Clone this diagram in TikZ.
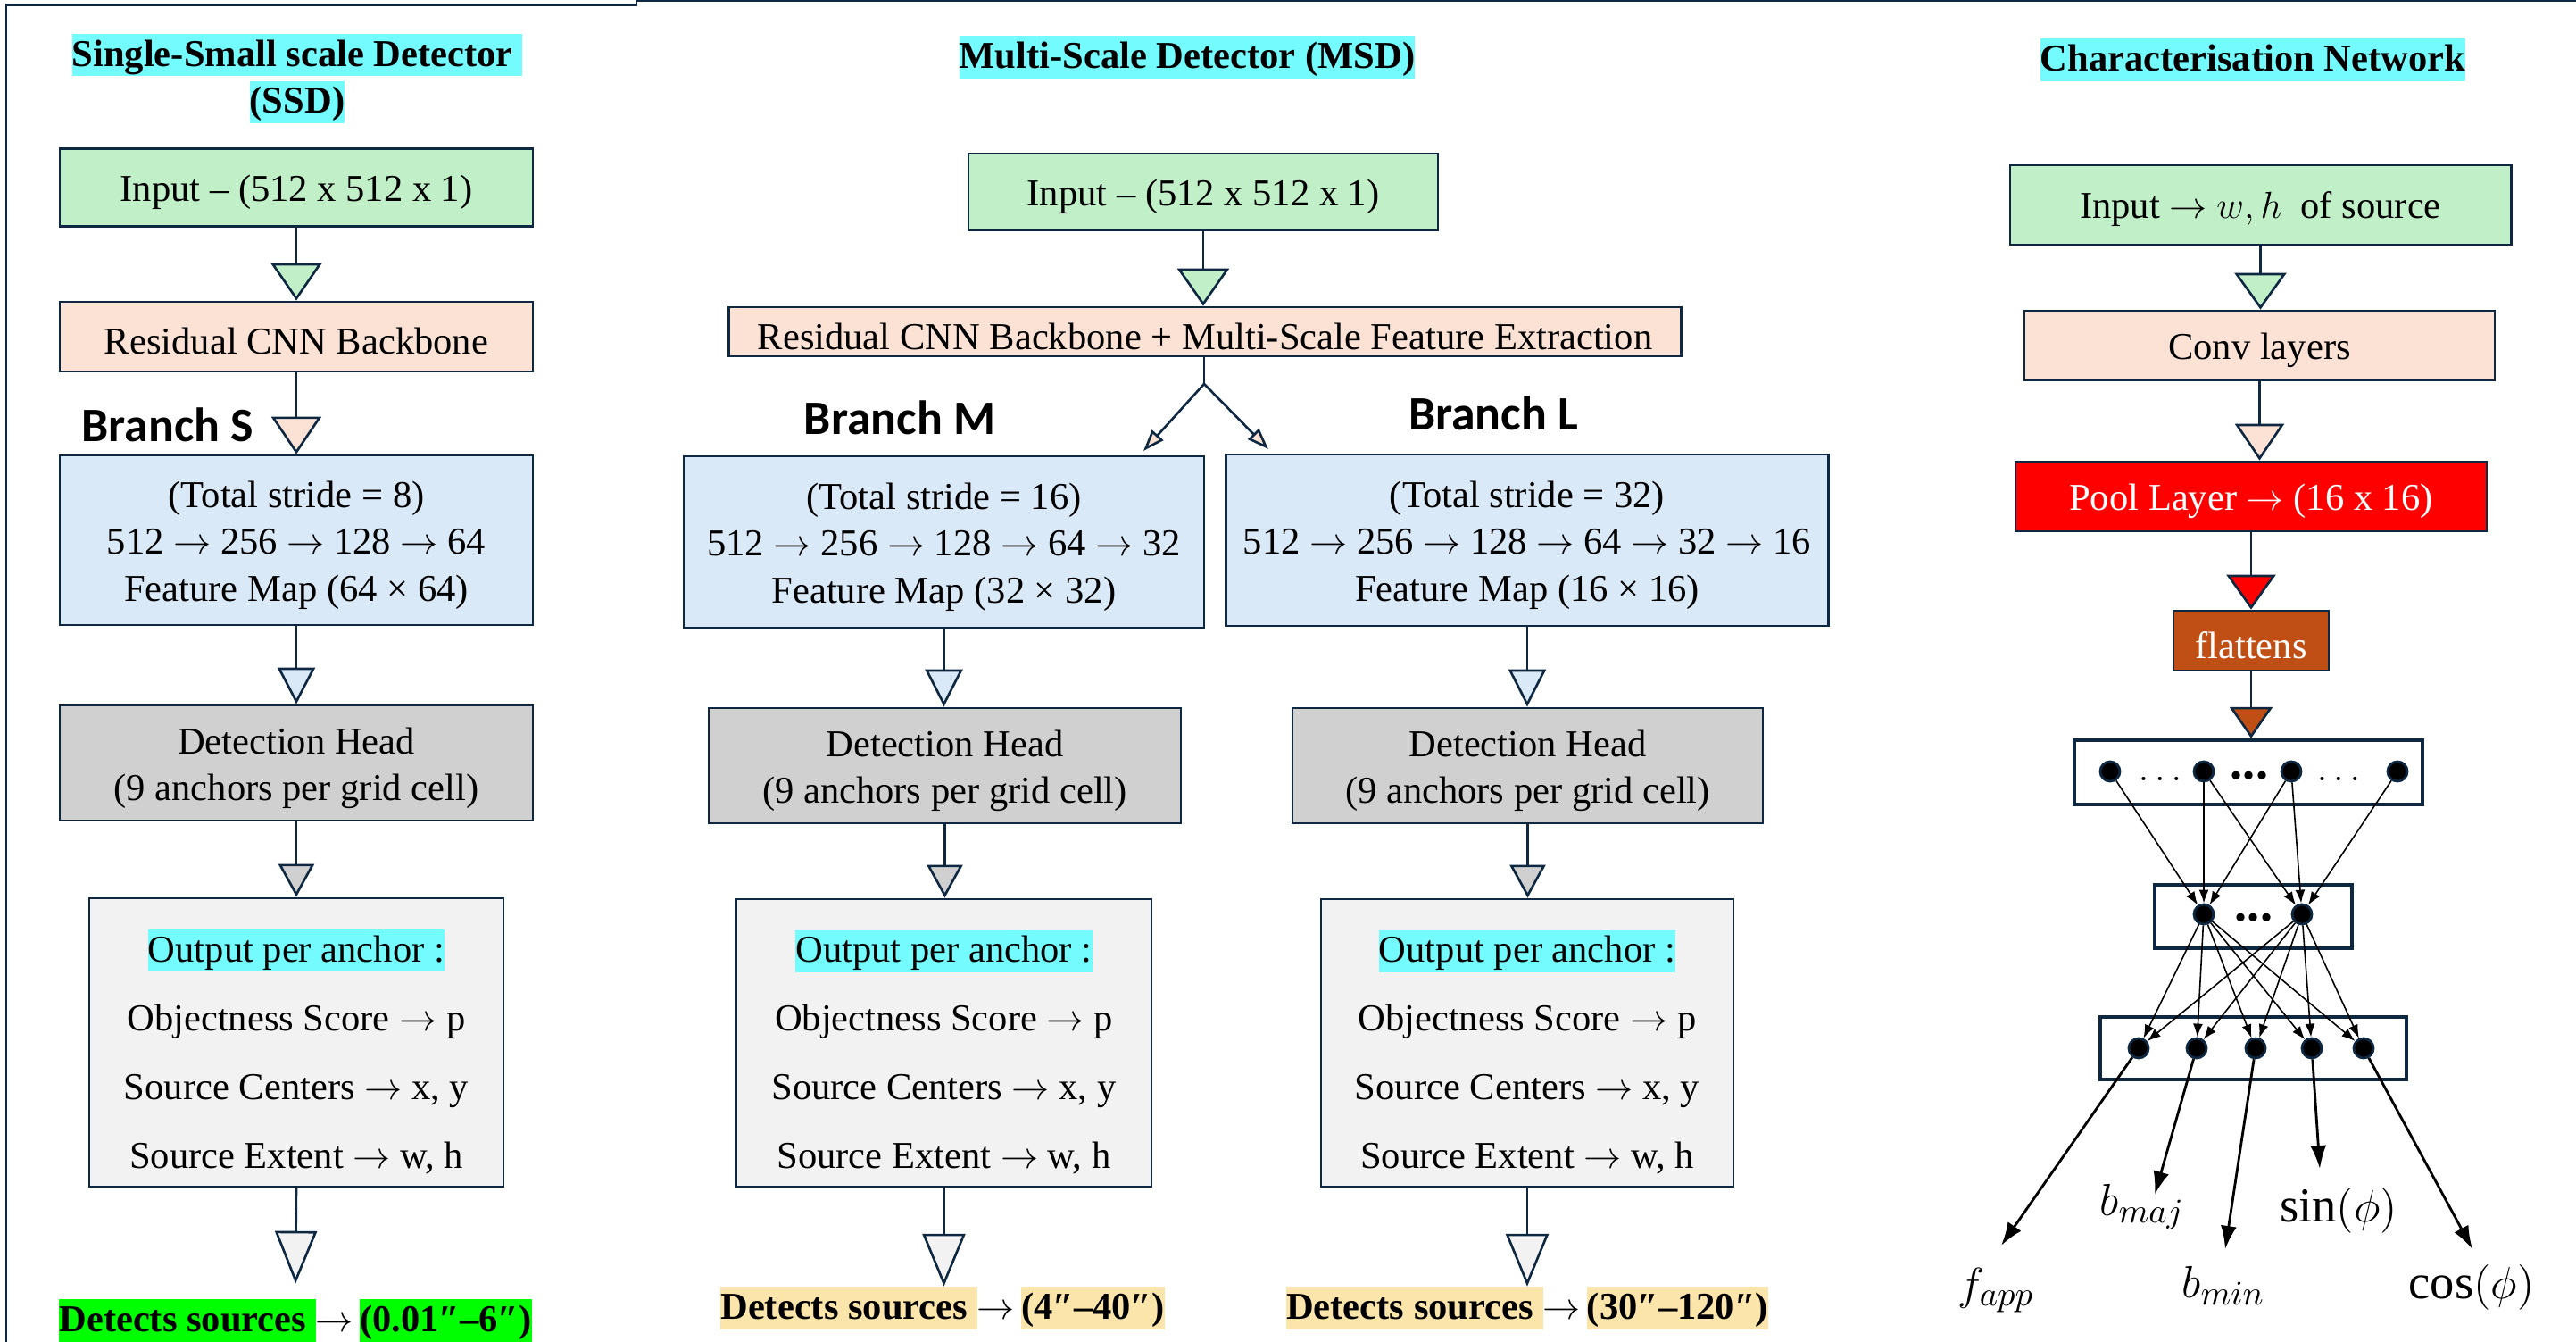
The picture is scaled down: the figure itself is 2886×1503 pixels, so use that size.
\documentclass[tikz,border=0pt]{standalone}
\usepackage{fontspec}
\setmainfont{Liberation Serif}
\newfontfamily\branchfont{Carlito}
\usetikzlibrary{arrows.meta}
\definecolor{edge}{RGB}{14,40,65}
\definecolor{ingreen}{RGB}{193,240,200}
\definecolor{peach}{RGB}{251,226,213}
\definecolor{mapblue}{RGB}{218,233,247}
\definecolor{headgray}{RGB}{208,208,208}
\definecolor{outgray}{RGB}{242,242,242}
\definecolor{poolred}{RGB}{255,0,0}
\definecolor{flatbrown}{RGB}{192,79,21}
\definecolor{hlcyan}{RGB}{115,251,253}
\definecolor{hlgreen}{RGB}{0,255,0}
\definecolor{hlgold}{RGB}{252,229,170}
\newcommand{\bodyfs}{\fontsize{12.1}{14.8}\selectfont}
\newcommand{\hlbox}[2]{{\setlength{\fboxsep}{0pt}\colorbox{#1}{\rule[-0.11cm]{0pt}{0.47cm}#2}}}
\newcommand{\ra}{$\rightarrow$}
\newcommand{\lift}[1]{\rule{0pt}{#1}}
\tikzset{
	box/.style={draw=edge, line width=0.75pt, fill=#1, inner sep=0pt, align=center, font=\bodyfs,
		execute at begin node={\lift{0.4cm}}},
	outbox/.style={box=outgray, font={\fontsize{12.1}{21.9}\selectfont}},
	title/.style={inner sep=0pt, align=center, font={\bodyfs\bfseries}},
	branch/.style={inner sep=0pt, font={\branchfont\bfseries\fontsize{15.3}{18}\selectfont}},
	lbl/.style={inner sep=0pt, font={\fontsize{15.5}{18}\selectfont}},
	flow/.style n args={3}{draw=edge, line width=0.75pt, -{Triangle[width=#2cm, length=#3cm, fill=#1]}},
	layer/.style={draw=edge, line width=1.2pt, fill=white, inner sep=0pt},
	dot/.style={circle, fill=black, draw=edge, line width=0.8pt, minimum size=0.22cm, inner sep=0pt},
	nn/.style={draw=black, line width=0.45pt, -{Latex[length=0.15cm, width=0.11cm]}},
	nnout/.style={draw=black, line width=0.8pt, -{Latex[length=0.26cm, width=0.18cm]}}
}
\begin{document}
\begin{tikzpicture}[x=0.01cm, y=-0.01cm]
	\useasboundingbox (0,0) rectangle (2886,1503);
	% khung
	\draw[edge, line width=0.85pt] (7,1503) -- (7,5.5) -- (713,5.5) -- (713,1) -- (2886,1);
	% cot trai: SSD
	\node[title] (tS) at (333,88) {\hlbox{hlcyan}{Single-Small scale Detector }\\\hlbox{hlcyan}{(SSD)}};
	\node[box=ingreen, minimum width=5.3cm, minimum height=0.87cm] (inS) at (332,210) {Input – (512 x 512 x 1)};
	\node[box=peach, minimum width=5.3cm, minimum height=0.78cm] (resS) at (332,377) {Residual CNN Backbone};
	\node[branch] (brS) at (188,476) {Branch S};
	\node[box=mapblue, minimum width=5.3cm, minimum height=1.9cm] (mapS) at (332,605)
		{\lift{0.41cm}(Total stride = 8)\\512 \ra{} 256 \ra{} 128 \ra{} 64\\Feature Map (64 × 64)};
	\node[box=headgray, minimum width=5.3cm, minimum height=1.29cm] (headS) at (332,854.5)
		{\lift{0.41cm}Detection Head\\(9 anchors per grid cell)};
	\node[outbox, minimum width=4.64cm, minimum height=3.23cm] (outS) at (332,1167.5)
		{\lift{0.57cm}\hlbox{hlcyan}{Output per anchor :}\\Objectness Score \ra{} p\\Source Centers \ra{} x, y\\Source Extent \ra{} w, h};
	\node[title] (detS) at (331,1479) {\hlbox{hlgreen}{Detects sources }\ra\,\hlbox{hlgreen}{(0.01″–6″)}};
	\draw[flow={ingreen}{.57}{.42}] (inS.south) -- (resS.north);
	\draw[flow={peach}{.56}{.42}] (resS.south) -- (mapS.north);
	\draw[flow={mapblue}{.42}{.41}] (mapS.south) -- (headS.north);
	\draw[flow={headgray}{.40}{.37}] (headS.south) -- (outS.north);
	\draw[flow={outgray}{.47}{.59}, shorten >=0.17cm] (outS.south) -- (detS.north);
	% cot giua: MSD
	\node[title] (tM) at (1330,64) {\hlbox{hlcyan}{Multi-Scale Detector (MSD)}};
	\node[box=ingreen, minimum width=5.26cm, minimum height=0.86cm] (inM) at (1348,215) {Input – (512 x 512 x 1)};
	\node[box=peach, minimum width=10.66cm, minimum height=0.55cm] (resM) at (1350,371.5)
		{Residual CNN Backbone + Multi-Scale Feature Extraction};
	\coordinate (split) at (1349,430);
	\coordinate (tipM) at (1281,505);
	\coordinate (tipL) at (1421,503);
	\node[branch] (brM) at (1008,467.5) {Branch M};
	\node[branch] (brL) at (1673,462.5) {Branch L};
	\node[box=mapblue, minimum width=5.83cm, minimum height=1.92cm] (mapM) at (1057.5,607)
		{\lift{0.41cm}(Total stride = 16)\\512 \ra{} 256 \ra{} 128 \ra{} 64 \ra{} 32\\Feature Map (32 × 32)};
	\node[box=mapblue, minimum width=6.74cm, minimum height=1.92cm] (mapL) at (1711,605)
		{\lift{0.41cm}(Total stride = 32)\\512 \ra{} 256 \ra{} 128 \ra{} 64 \ra{} 32 \ra{} 16\\Feature Map (16 × 16)};
	\node[box=headgray, minimum width=5.29cm, minimum height=1.29cm] (headM) at (1058.5,857.5)
		{\lift{0.41cm}Detection Head\\(9 anchors per grid cell)};
	\node[box=headgray, minimum width=5.27cm, minimum height=1.29cm] (headL) at (1711.5,857.5)
		{\lift{0.41cm}Detection Head\\(9 anchors per grid cell)};
	\node[outbox, minimum width=4.65cm, minimum height=3.22cm] (outM) at (1057.5,1168)
		{\lift{0.57cm}\hlbox{hlcyan}{Output per anchor :}\\Objectness Score \ra{} p\\Source Centers \ra{} x, y\\Source Extent \ra{} w, h};
	\node[outbox, minimum width=4.62cm, minimum height=3.22cm] (outL) at (1711,1168)
		{\lift{0.57cm}\hlbox{hlcyan}{Output per anchor :}\\Objectness Score \ra{} p\\Source Centers \ra{} x, y\\Source Extent \ra{} w, h};
	\node[title] (detM) at (1056,1465) {\hlbox{hlgold}{Detects sources }\ra\,\hlbox{hlgold}{(4″–40″)}};
	\node[title] (detL) at (1711,1465) {\hlbox{hlgold}{Detects sources }\ra\,\hlbox{hlgold}{(30″–120″)}};
	\draw[flow={ingreen}{.58}{.42}] (inM.south) -- (inM.south |- resM.north);
	\draw[edge, line width=0.75pt] (resM.south -| split) -- (split);
	\draw[flow={peach}{.17}{.24}] (split) -- (tipM);
	\draw[flow={peach}{.17}{.24}] (split) -- (tipL);
	\foreach \b in {M,L}{
		\draw[flow={mapblue}{.42}{.42}] (map\b.south) -- (map\b.south |- head\b.north);
		\draw[flow={headgray}{.40}{.37}] (head\b.south) -- (head\b.south |- out\b.north);
		\draw[flow={outgray}{.48}{.59}] (out\b.south) -- (out\b.south |- det\b.north);}
	% cot phai: mang dac trung
	\node[title] (tC) at (2524,67) {\hlbox{hlcyan}{Characterisation Network}};
	\node[box=ingreen, minimum width=5.61cm, minimum height=0.89cm] (inC) at (2532.5,229.5)
		{Input \ra{} $w,h$\enspace of source};
	\node[box=peach, minimum width=5.27cm, minimum height=0.78cm] (convC) at (2531.5,387) {Conv layers};
	\node[box=poolred, text=white, minimum width=5.28cm, minimum height=0.78cm] (poolC) at (2522,556)
		{Pool Layer \ra{} (16 x 16)};
	\node[box=flatbrown, text=white, minimum width=1.74cm, minimum height=0.67cm] (flatC) at (2522,717.5) {flattens};
	\node[layer, minimum width=3.9cm, minimum height=0.72cm] (L1) at (2519,865) {};
	\node[layer, minimum width=2.21cm, minimum height=0.71cm] (L2) at (2524.5,1026.5) {};
	\node[layer, minimum width=3.43cm, minimum height=0.70cm] (L3) at (2524.5,1174) {};
	\draw[flow={ingreen}{.58}{.41}] (inC.south) -- (inC.south |- convC.north);
	\draw[flow={peach}{.55}{.41}] (convC.south) -- (convC.south |- poolC.north);
	\draw[flow={poolred}{.55}{.39}] (poolC.south) -- (flatC.north);
	\draw[flow={flatbrown}{.48}{.35}] (flatC.south) -- (flatC.south |- L1.north);
	% cac lop noron
	\foreach \n/\x in {1/2364,2/2469,3/2567,4/2686}
		\node[dot] (a\n) at (\x,864) {};
	\foreach \n/\x in {1/2469,2/2579}
		\node[dot] (b\n) at (\x,1024) {};
	\foreach \n/\x in {1/2396,2/2461,3/2527,4/2590,5/2648}
		\node[dot] (c\n) at (\x,1174) {};
	\node[inner sep=0pt, font={\fontsize{13}{15}\selectfont}] (e1) at (2420,872) {$\ldots$};
	\node[inner sep=0pt, font={\fontsize{16}{18}\selectfont\bfseries}] (e2) at (2520,869) {...};
	\node[inner sep=0pt, font={\fontsize{13}{15}\selectfont}] (e3) at (2620,872) {$\ldots$};
	\node[inner sep=0pt, font={\fontsize{16}{18}\selectfont\bfseries}] (e4) at (2525,1028) {...};
	\foreach \s/\t in {a1/b1,a2/b1,a2/b2,a3/b1,a3/b2,a4/b2}
		\draw[nn] (\s) -- (\t);
	\foreach \s in {b1,b2}
		\foreach \t in {c1,c2,c3,c4,c5}
			\draw[nn] (\s) -- (\t);
	\foreach \n/\x/\y in {1/2242/1395,2/2414/1338,3/2493/1399,4/2599/1309,5/2770/1399}{
		\coordinate (o\n) at (\x,\y);
		\draw[nnout] (c\n) -- (o\n);}
	\node[lbl] (fapp) at (2236,1445) {$f_{app}$};
	\node[lbl] (bmaj) at (2400,1352) {$b_{maj}$};
	\node[lbl] (bmin) at (2491,1440) {$b_{min}$};
	\node[lbl] (sinp) at (2620,1356) {$\sin(\phi)$};
	\node[lbl] (cosp) at (2769,1442) {$\cos(\phi)$};
\end{tikzpicture}
\end{document}
